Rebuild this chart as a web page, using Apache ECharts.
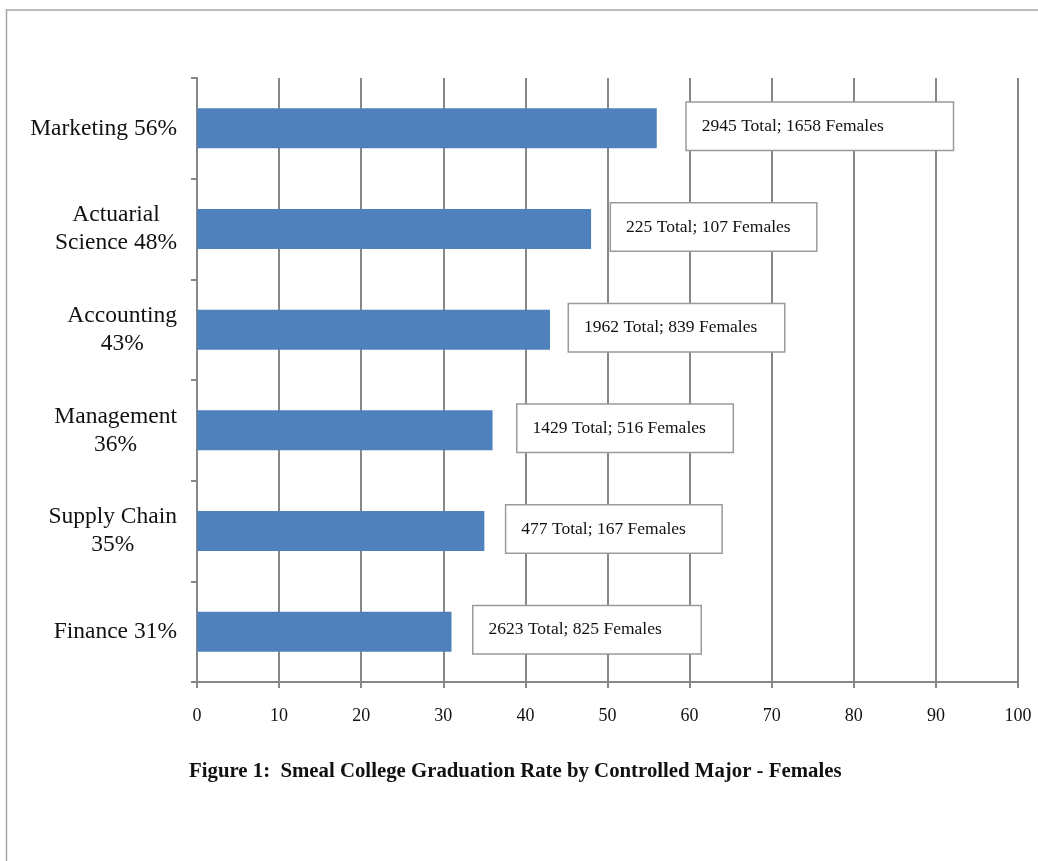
<!DOCTYPE html>
<html>
<head>
<meta charset="utf-8">
<script src="https://cdn.jsdelivr.net/npm/echarts@6/dist/echarts.min.js"></script>
<style>
  html, body { margin: 0; padding: 0; background: #fff; }
  #chart { width: 1038px; height: 861px; }
</style>
</head>
<body>
<div id="chart"></div>
<script>
// top to bottom, as in the figure
const majors = ["Marketing 56%", "Actuarial\nScience 48%", "Accounting\n43%", "Management\n36%", "Supply Chain\n35%", "Finance 31%"];
const rates = [56, 48, 43, 36, 35, 31];
const totals = [2945, 225, 1962, 1429, 477, 2623];
const females = [1658, 107, 839, 516, 167, 825];
const xTicks = [0, 10, 20, 30, 40, 50, 60, 70, 80, 90, 100];

// callout boxes (layout only): width and gap from bar end
const boxWidths = [266, 205, 215, 215, 215, 227];
const boxGaps = [30, 20, 19, 25, 22, 22];

const serif = "'Liberation Serif', 'DejaVu Serif', serif";
const gray = "#878787";

const chart = echarts.init(document.getElementById("chart"));

chart.setOption({
  backgroundColor: "#fff",
  animation: false,
  grid: { left: 197, right: 20, top: 78, bottom: 179, containLabel: false },
  xAxis: {
    type: "value",
    min: xTicks[0],
    max: xTicks[xTicks.length - 1],
    interval: 10,
    axisLine: { show: true, lineStyle: { color: gray, width: 2 } },
    axisTick: { show: true, length: 6, lineStyle: { color: gray, width: 2 } },
    axisLabel: { color: "#111", fontFamily: serif, fontSize: 18, margin: 25 },
    splitLine: { show: true, lineStyle: { color: gray, width: 2 } }
  },
  yAxis: {
    type: "category",
    inverse: true,
    data: majors,
    axisLine: { show: true, lineStyle: { color: gray, width: 2 } },
    axisTick: { show: true, length: 6, lineStyle: { color: gray, width: 2 } },
    axisLabel: {
      margin: 20,
      formatter: (v) => v.split("\n").map((s) => "{c|" + s + "}").join("\n"),
      rich: {
        c: { color: "#111", fontFamily: serif, fontSize: 23.5, lineHeight: 28, align: "center" }
      }
    },
    splitLine: { show: false }
  },
  series: [
    {
      type: "bar",
      barWidth: 40,
      itemStyle: { color: "#4F81BD" },
      data: rates.map((r, i) => ({
        value: r,
        label: { width: boxWidths[i] - 15, distance: boxGaps[i] }
      })),
      label: {
        show: true,
        position: "right",
        offset: [0, -2],
        formatter: (p) => totals[p.dataIndex] + " Total; " + females[p.dataIndex] + " Females",
        color: "#111",
        fontFamily: serif,
        fontSize: 17.5,
        align: "left",
        backgroundColor: "#fff",
        borderColor: "#9a9a9a",
        borderWidth: 1.5,
        padding: [14, 0, 15, 15]
      }
    }
  ],
  graphic: [
    {
      type: "rect",
      shape: { x: 6.5, y: 10, width: 1100, height: 900 },
      style: { fill: "none", stroke: "#a6a6a6", lineWidth: 1.5 },
      silent: true
    },
    {
      type: "text",
      left: 189,
      top: 761,
      style: {
        text: "Figure 1:  Smeal College Graduation Rate by Controlled Major - Females",
        fill: "#111",
        font: "bold 20.8px " + serif
      }
    }
  ]
});
</script>
</body>
</html>
